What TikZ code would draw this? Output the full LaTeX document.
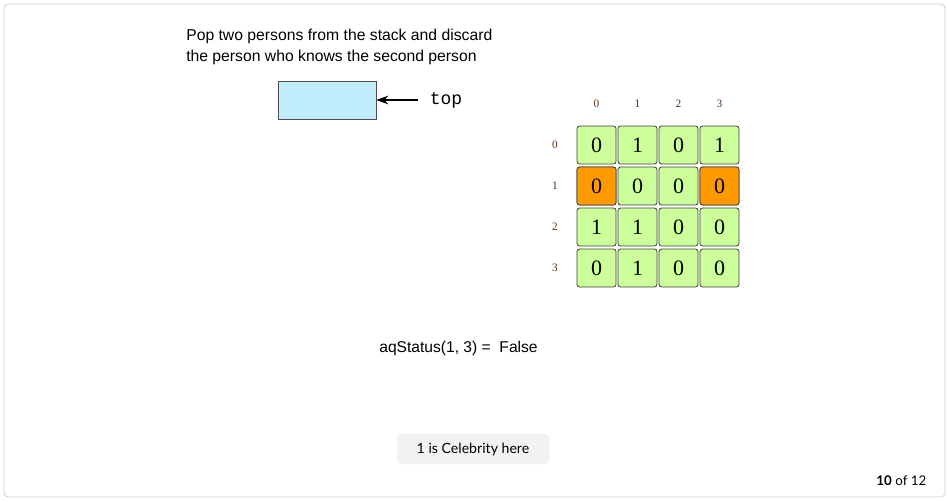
\documentclass[tikz,border=0pt]{standalone}
\usepackage{fontspec}
\setmainfont{Liberation Sans}
\newfontfamily\cellfont{Liberation Serif}
\newfontfamily\codefont{Liberation Mono}
\newfontfamily\uifont{Lato}
\definecolor{CellGreen}{RGB}{204,255,153}
\definecolor{CellOrange}{RGB}{255,153,0}
\definecolor{StackBlue}{RGB}{192,236,252}
\definecolor{ButtonGray}{RGB}{242,242,242}
\definecolor{FrameGray}{RGB}{205,205,205}
\definecolor{LabelBrown}{RGB}{90,45,20}
\usetikzlibrary{positioning,arrows.meta}

\begin{document}
\begin{tikzpicture}[x=0.75pt,y=-0.75pt,
    cell/.style={draw=black!75,fill=CellGreen,rounded corners=2pt,line width=0.6pt,
                 minimum width=29.3pt,minimum height=28.5pt,inner sep=0pt,
                 font=\cellfont\fontsize{16.5}{16.5}\selectfont},
    hot/.style={cell,fill=CellOrange},
    idx/.style={font=\cellfont\fontsize{8.5}{8.5}\selectfont,text=LabelBrown}]
  \useasboundingbox (0,0) rectangle (949,501);
  \draw[FrameGray,rounded corners=3pt,line width=0.6pt] (4,4) rectangle (945,497);

  \node[anchor=north west,align=left,inner sep=0pt,font=\fontsize{11.8}{15.7}\selectfont]
    (caption) at (186,29) {Pop two persons from the stack and discard\\the person who knows the second person};

  \node[draw=black!70,fill=StackBlue,line width=0.5pt,minimum width=73.5pt,minimum height=28.5pt,
        inner sep=0pt] (stack) at (327,100) {};
  \node[anchor=west,inner sep=0pt,font=\codefont\fontsize{13.5}{13.5}\selectfont] (toplabel) at (429.5,100) {top};
  \coordinate (toptail) at (418,100);
  \draw[line width=0.8pt,-{Stealth[length=9pt,width=6.5pt]}] (toptail) -- (stack.east);

  % adjacency matrix
  \foreach \r/\vals in {0/{0,1,0,1},1/{0,0,0,0},2/{1,1,0,0},3/{0,1,0,0}} {
    \node[idx] (row-\r) at (555,145+41*\r) {\r};
    \foreach \v [count=\c from 0] in \vals {
      \node[cell] (m-\r-\c) at (596.5+41*\c,145+41*\r) {\v};
    }
  }
  \foreach \c in {0,...,3}
    \node[idx] (col-\c) at (596.5+41*\c,104) {\c};
  \node[hot] at (m-1-0) {0};
  \node[hot] at (m-1-3) {0};

  \node[font=\fontsize{11.7}{11.7}\selectfont] (status) at (458.5,348) {aqStatus(1, 3) =\ \ False};

  \node[fill=ButtonGray,rounded corners=3pt,minimum width=114pt,minimum height=22.5pt,
        font=\uifont\fontsize{10.6}{10.6}\selectfont] (answer) at (473,449) {1 is Celebrity here};
  \node[anchor=east,font=\uifont\fontsize{10}{10}\selectfont] (pager) at (931,481)
    {\textbf{10} of 12};
\end{tikzpicture}
\end{document}
